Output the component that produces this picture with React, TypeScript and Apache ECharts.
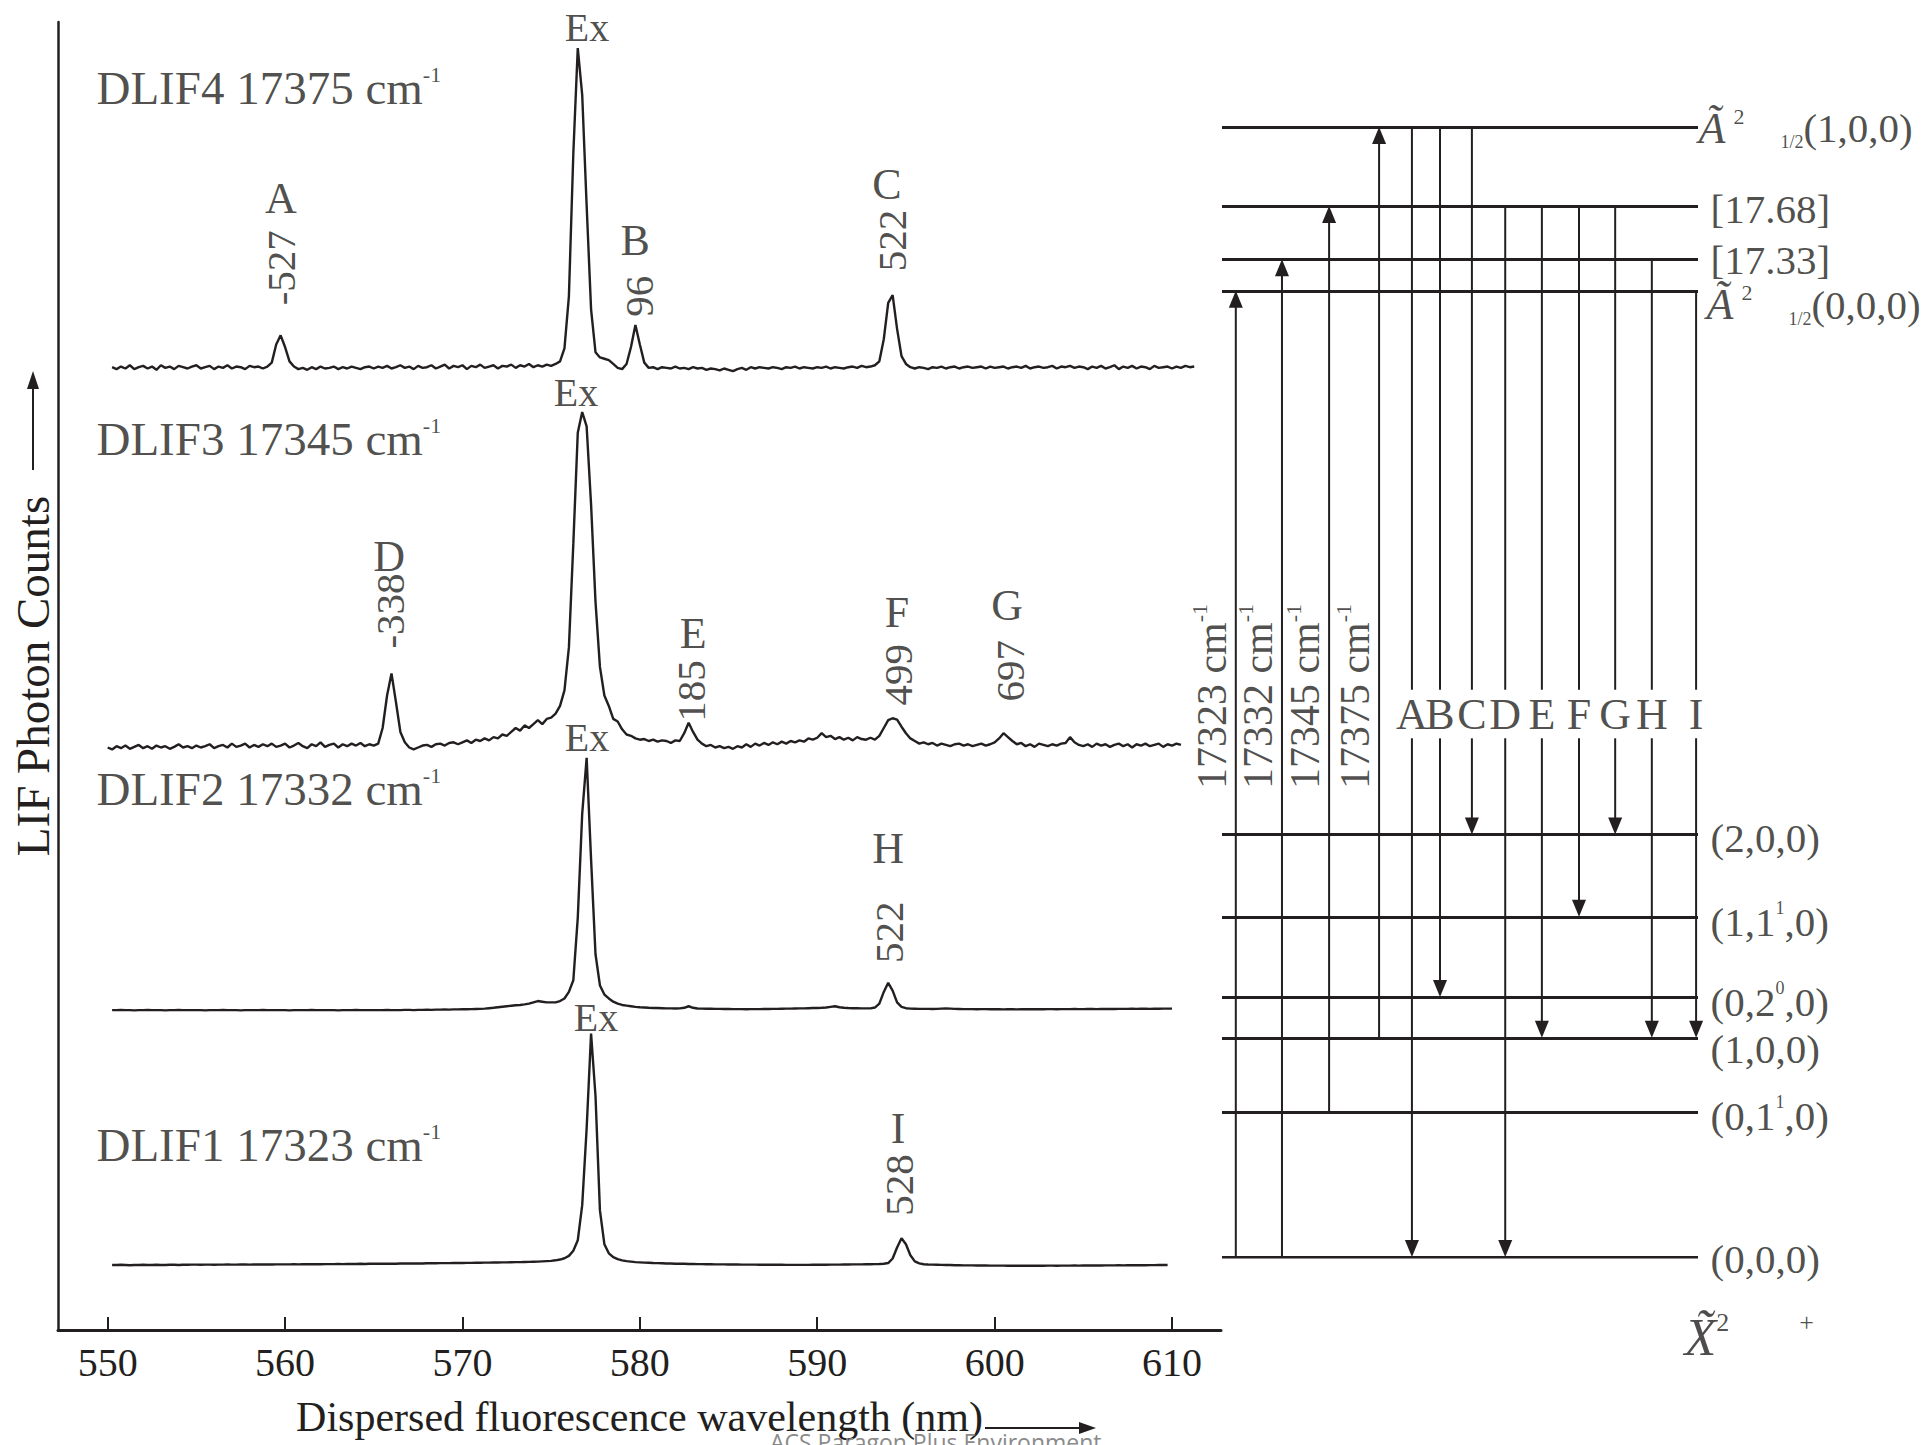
import React, { useEffect, useRef } from "react";
import * as echarts from "echarts";

const INK = "#231f20";
const SERIF = '"Liberation Serif", "Times New Roman", Times, serif';

// ---------------- Spectra (dispersed fluorescence) ----------------
// Samples every 0.25 nm starting at 550 nm; each row = 5 nm (20 samples).
// Values are counts above each trace's own baseline (arbitrary units).
const SAMPLE_START = 550;
const SAMPLE_STEP = 0.25;

const dlif4: (number | null)[] = [
  /*550*/ null, 0.05, -0.1, 0.1, -0.05, 0.2, -0.1, 0.05, 0.15, -0.05, 0.1, -0.15, 0.2, 0, 0.1, -0.1, 0.15, 0.05, -0.05, 0.1,
  /*555*/ 0.2, -0.05, 0.05, 0.15, -0.1, 0.1, 0, 0.2, -0.05, 0.1, 0.05, -0.1, 0.15, 0.05, 0.1, -0.05, 0.1, 0.4, 1.8, 2.5,
  /*560*/ 1.6, 0.5, 0.1, -0.1, 0, -0.15, 0.05, -0.1, 0.1, -0.05, 0, 0.1, -0.1, 0.05, -0.05, 0.1, 0, -0.1, 0.05, 0.1,
  /*565*/ -0.05, 0.1, 0, 0.15, -0.05, 0.05, 0.2, 0, 0.1, -0.1, 0.15, 0, 0.05, 0.2, -0.05, 0.1, 0.25, -0.05, 0.15, 0.05,
  /*570*/ 0.2, -0.1, 0.15, 0.05, 0.25, 0, 0.1, 0.2, -0.05, 0.15, 0.1, 0.25, 0, 0.2, 0.1, 0.3, 0.05, 0.2, 0.1, 0.25,
  /*575*/ 0.15, 0.3, 0.5, 1.5, 5.5, 16.5, 24.6, 21.0, 12.5, 4.5, 1.2, 0.8, 0.7, 0.6, 0.3, 0.0, -0.1, 0.3, 1.6, 3.3,
  /*580*/ 1.8, 0.4, 0.0, 0.05, -0.1, 0.05, 0, -0.05, 0.1, -0.05, 0, -0.1, 0.05, -0.05, 0, -0.15, -0.05, -0.1, -0.2, -0.05,
  /*585*/ -0.15, -0.25, -0.1, 0, -0.15, 0.05, -0.05, 0.05, 0, -0.05, 0.05, 0, -0.1, 0.05, 0, 0.1, -0.05, 0.05, 0, -0.05,
  /*590*/ 0.05, 0, 0.1, -0.05, 0.05, 0, -0.05, 0.05, 0.1, 0, 0.15, 0.05, 0.1, 0.2, 0.5, 2.2, 5.0, 5.6, 3.0, 0.9,
  /*595*/ 0.3, 0.05, -0.05, 0.05, 0, -0.1, 0.05, 0, 0.1, -0.05, 0.05, 0.1, -0.05, 0.05, 0.1, 0, 0.05, 0.1, -0.05, 0.1,
  /*600*/ 0, 0.05, 0.1, -0.05, 0.05, 0.1, 0, 0.15, -0.05, 0.05, 0.1, 0, 0.05, 0.15, -0.05, 0.1, 0.05, 0.15, 0, 0.1,
  /*605*/ 0.05, -0.1, 0.1, 0, 0.15, -0.05, 0.05, 0.2, -0.1, 0.1, 0, 0.15, -0.05, 0.1, 0.05, -0.1, 0.15, 0, 0.05, 0.1,
  /*610*/ -0.05, 0.1, 0, 0.15, 0.05, 0.1,
];

const dlif3: (number | null)[] = [
  /*550*/ -0.2, -0.35, -0.1, -0.25, -0.05, -0.3, -0.15, 0, -0.25, -0.1, -0.3, -0.05, -0.2, -0.1, -0.3, -0.15, 0.05, -0.2, -0.1, -0.25,
  /*555*/ -0.05, -0.2, -0.1, 0.05, -0.25, -0.1, 0, -0.2, 0.1, -0.15, -0.05, 0.1, -0.2, 0, -0.15, 0.05, -0.1, 0.1, -0.15, -0.05,
  /*560*/ 0.1, -0.2, -0.05, 0.15, -0.1, -0.25, 0.05, -0.1, 0.2, -0.15, 0, 0.1, -0.2, 0.05, -0.1, 0.1, -0.05, 0.15, -0.1, 0.05,
  /*565*/ -0.05, 0.1, 1.3, 3.8, 5.5, 3.3, 1.0, 0.2, -0.2, -0.35, -0.2, -0.05, 0, -0.15, 0.05, 0.1, -0.05, 0.15, 0.2, 0.05,
  /*570*/ 0.2, 0.35, 0.15, 0.4, 0.3, 0.5, 0.35, 0.6, 0.5, 0.8, 0.7, 1.0, 1.3, 1.1, 1.5, 1.3, 1.6, 1.9, 1.6, 2.0,
  /*575*/ 2.1, 2.4, 3.0, 4.2, 7.5, 15.5, 24.0, 25.6, 24.5, 18.5, 11.0, 6.0, 3.8, 3.0, 2.0, 1.8, 1.2, 0.8, 0.7, 0.5,
  /*580*/ 0.4, 0.45, 0.3, 0.4, 0.25, 0.35, 0.3, 0.15, 0.35, 0.3, 0.9, 1.7, 1.0, 0.4, 0.1, -0.1, 0, -0.2, -0.1, -0.25,
  /*585*/ -0.15, -0.3, -0.1, -0.2, 0.05, -0.15, 0.1, -0.05, 0.15, 0, 0.2, 0.05, 0.25, 0.1, 0.3, 0.2, 0.35, 0.25, 0.5, 0.4,
  /*590*/ 0.55, 0.9, 0.6, 0.7, 0.45, 0.6, 0.4, 0.55, 0.35, 0.6, 0.45, 0.4, 0.55, 0.4, 0.7, 1.3, 1.9, 2.05, 1.95, 1.4,
  /*595*/ 0.9, 0.5, 0.3, 0.1, 0.2, 0.05, 0.15, -0.05, 0.1, 0, -0.1, 0.05, 0.1, -0.05, 0.05, -0.1, 0, 0.1, -0.05, 0.05,
  /*600*/ 0.2, 0.5, 0.9, 0.6, 0.3, 0.05, 0.15, -0.1, 0.05, -0.15, 0.1, 0, -0.1, 0.05, -0.05, 0.1, 0.15, 0.6, 0.2, 0,
  /*605*/ -0.1, 0.05, -0.15, 0.1, -0.05, 0.05, -0.15, 0, 0.1, -0.1, 0.05, -0.2, 0.05, -0.05, 0.1, -0.1, 0, 0.1, -0.15, 0.05,
  /*610*/ -0.05, 0.1, 0,
];

const dlif2: (number | null)[] = [
  /*550*/ null, -0.1, -0.1, -0.08, -0.1, -0.1, -0.12, -0.1, -0.1, -0.08, -0.1, -0.1, -0.1, -0.12, -0.1, -0.1, -0.08, -0.1, -0.1, -0.1,
  /*555*/ -0.1, -0.1, -0.12, -0.1, -0.1, -0.1, -0.08, -0.1, -0.1, -0.1, -0.12, -0.1, -0.1, -0.1, -0.1, -0.08, -0.1, -0.1, -0.1, -0.1,
  /*560*/ -0.1, -0.12, -0.1, -0.1, -0.1, -0.1, -0.08, -0.1, -0.1, -0.1, -0.1, -0.1, -0.12, -0.1, -0.1, -0.1, -0.08, -0.1, -0.1, -0.1,
  /*565*/ -0.1, -0.1, -0.1, -0.08, -0.1, -0.1, -0.1, -0.08, -0.08, -0.1, -0.08, -0.08, -0.06, -0.08, -0.06, -0.06, -0.05, -0.06, -0.04, -0.04,
  /*570*/ -0.03, -0.03, -0.02, -0.01, 0, 0.02, 0.05, 0.08, 0.12, 0.16, 0.2, 0.24, 0.28, 0.3, 0.34, 0.4, 0.5, 0.6, 0.55, 0.5,
  /*575*/ 0.5, 0.5, 0.6, 0.8, 1.3, 2.2, 7.0, 15.0, 19.3, 11.5, 4.2, 1.8, 1.1, 0.8, 0.55, 0.4, 0.3, 0.25, 0.2, 0.15,
  /*580*/ 0.12, 0.1, 0.08, 0.07, 0.06, 0.05, 0.04, 0.04, 0.03, 0.04, 0.08, 0.2, 0.08, 0.03, 0.02, 0.01, 0.01, 0, 0, -0.01,
  /*585*/ -0.01, -0.02, -0.02, -0.02, -0.03, -0.02, -0.02, -0.02, -0.01, -0.01, 0, 0, 0.01, 0.02, 0.02, 0.03, 0.04, 0.04, 0.05, 0.06,
  /*590*/ 0.07, 0.08, 0.1, 0.15, 0.2, 0.12, 0.08, 0.06, 0.05, 0.05, 0.04, 0.04, 0.04, 0.1, 0.4, 1.3, 2.0, 1.4, 0.5, 0.15,
  /*595*/ 0.05, 0.02, 0.01, 0, 0, 0, -0.01, 0, 0.02, 0.03, 0.02, 0, -0.01, -0.02, -0.02, -0.02, -0.03, -0.02, -0.02, -0.03,
  /*600*/ -0.03, -0.03, -0.04, -0.03, -0.03, -0.04, -0.03, -0.03, -0.03, -0.02, -0.03, -0.03, -0.02, -0.02, -0.03, -0.02, -0.02, -0.02, -0.01, -0.02,
  /*605*/ -0.02, -0.01, -0.01, -0.02, -0.01, -0.01, 0, -0.01, 0, 0, 0, 0.01, 0, 0.01, 0.01, 0, 0.01, 0.01, 0.02, 0.02,
  /*610*/ 0.02,
];

const dlif1: (number | null)[] = [
  /*550*/ null, 0, 0, 0.02, 0, -0.02, 0, 0, 0.02, 0, 0, 0.02, 0, 0, 0.02, 0.02, 0, 0.02, 0.02, 0.03,
  /*555*/ 0.03, 0.02, 0.03, 0.03, 0.02, 0.03, 0.03, 0.04, 0.03, 0.03, 0.04, 0.04, 0.03, 0.04, 0.04, 0.05, 0.04, 0.04, 0.05, 0.05,
  /*560*/ 0.05, 0.05, 0.06, 0.05, 0.06, 0.06, 0.06, 0.07, 0.06, 0.07, 0.07, 0.07, 0.08, 0.07, 0.08, 0.08, 0.08, 0.09, 0.08, 0.09,
  /*565*/ 0.09, 0.09, 0.1, 0.1, 0.1, 0.1, 0.11, 0.11, 0.11, 0.12, 0.12, 0.12, 0.13, 0.13, 0.13, 0.14, 0.14, 0.14, 0.15, 0.15,
  /*570*/ 0.15, 0.16, 0.16, 0.17, 0.17, 0.18, 0.18, 0.19, 0.19, 0.2, 0.2, 0.21, 0.22, 0.22, 0.23, 0.24, 0.25, 0.26, 0.28, 0.3,
  /*575*/ 0.32, 0.36, 0.42, 0.52, 0.7, 1.1, 1.9, 4.6, 10.5, 17.8, 13.0, 4.2, 1.6, 0.9, 0.6, 0.45, 0.36, 0.3, 0.26, 0.22,
  /*580*/ 0.2, 0.18, 0.17, 0.15, 0.14, 0.13, 0.12, 0.11, 0.1, 0.09, 0.09, 0.08, 0.08, 0.07, 0.07, 0.06, 0.06, 0.05, 0.05, 0.05,
  /*585*/ 0.04, 0.04, 0.04, 0.03, 0.03, 0.03, 0.03, 0.02, 0.02, 0.02, 0.02, 0.02, 0.02, 0.01, 0.01, 0.01, 0.01, 0.01, 0.01, 0.02,
  /*590*/ 0.02, 0.02, 0.02, 0.03, 0.03, 0.03, 0.04, 0.04, 0.05, 0.05, 0.05, 0.06, 0.06, 0.07, 0.08, 0.1, 0.15, 0.5, 1.35, 2.05,
  /*595*/ 1.6, 0.75, 0.28, 0.12, 0.06, 0.04, 0.03, 0.02, 0.01, 0, 0, -0.02, -0.02, -0.03, -0.03, -0.03, -0.04, -0.04, -0.04, -0.05,
  /*600*/ -0.05, -0.05, -0.05, -0.06, -0.05, -0.06, -0.06, -0.06, -0.05, -0.06, -0.06, -0.06, -0.05, -0.05, -0.06, -0.05, -0.05, -0.05, -0.04, -0.05,
  /*605*/ -0.04, -0.04, -0.04, -0.03, -0.04, -0.03, -0.03, -0.03, -0.02, -0.03, -0.02, -0.02, -0.02, -0.01, -0.02, -0.01, -0.01, 0, 0, 0,
];

// vertical stacking offsets of each trace (arb. units)
const traceNames = ["DLIF4", "DLIF3", "DLIF2", "DLIF1"];
const traceValues = [dlif4, dlif3, dlif2, dlif1];
const traceOffsets = [74.0, 45.0, 24.7, 5.0];

// axis ticks
const xTicks = [550, 560, 570, 580, 590, 600, 610];

// text annotations placed in data coordinates (nm, counts)
const traceLabelText = ["DLIF4 17375 cm", "DLIF3 17345 cm", "DLIF2 17332 cm", "DLIF1 17323 cm"];
const traceLabelPos: [number, number][] = [[549.34, 95.5], [549.34, 68.5], [549.34, 41.6], [549.34, 14.2]];
const exLabelPos: [number, number][] = [[577.02, 100.2], [576.4, 72.1], [577.02, 45.6], [577.53, 24.0]];
const peakLetters = ["A", "B", "C", "D", "E", "F", "G", "H", "I"];
const peakLetterPos: [number, number][] = [
  [559.77, 87.0], [579.73, 83.8], [593.93, 88.1], [565.86, 59.5], [583.0, 53.6],
  [594.49, 55.2], [600.7, 55.7], [593.99, 37.0], [594.55, 15.5],
];
const peakShifts = ["-527", "96", "522", "-338", "185", "499", "697", "522", "528"];
const peakShiftPos: [number, number][] = [
  [559.77, 81.7], [579.95, 79.5], [594.21, 83.8], [565.91, 55.3], [582.88, 49.15],
  [594.55, 50.4], [600.86, 50.7], [594.04, 30.6], [594.6, 11.15],
];

// ---------------- Energy-level diagram ----------------
const levelKeys = ["A100", "L1768", "L1733", "A000", "X200", "X110", "X020", "X100", "X010", "X000"];
const levelHeights = [100, 93.0, 88.3, 85.5, 37.4, 30.1, 23.0, 19.4, 12.8, 0];
const levelLabels = [
  "{a|Ã}{sp0| }{sup|2}{sp| }{sub|1/2}{n|(1,0,0)}",
  "{n|[17.68]}",
  "{n|[17.33]}",
  "{a|Ã}{sp0| }{sup|2}{sp| }{sub|1/2}{n|(0,0,0)}",
  "{n|(2,0,0)}",
  "{n|(1,1}{sup2|1}{n|,0)}",
  "{n|(0,2}{sup2|0}{n|,0)}",
  "{n|(1,0,0)}",
  "{n|(0,1}{sup2|1}{n|,0)}",
  "{n|(0,0,0)}",
];
const groundStateLabel = "{a|X̃}{sup|2}{sp2| }{sup|+}";

const excitationLabels = ["17323", "17332", "17345", "17375"];
const excitationFrom = ["X000", "X000", "X010", "X100"];
const excitationTo = ["A000", "L1733", "L1768", "A100"];

const emissionLabels = ["A", "B", "C", "D", "E", "F", "G", "H", "I"];
const emissionFrom = ["A100", "A100", "A100", "L1768", "L1768", "L1768", "L1768", "L1733", "A000"];
const emissionTo = ["X000", "X020", "X200", "X000", "X100", "X110", "X200", "X100", "X100"];

// layout of the diagram (diagram units 0..100)
const excitationColumnX = [2.9, 12.6, 22.5, 33.0];
const emissionColumnX = [39.9, 45.8, 52.5, 59.5, 67.2, 75.0, 82.6, 90.3, 99.6];
const GAP_TOP = 50.2;
const GAP_BOTTOM = 45.9;
const LETTER_Y = 48.0;
const EXC_LABEL_Y = 49.6;
const levelLabelOffsets: [number, number][] = [
  [0, 1], [12, 3], [12, 1], [8, 14], [12, 4], [12, 5], [12, 5], [12, 11], [12, 4], [12, 2],
];
const ARROW_W = 14;
const ARROW_H = 17;

const richStyles = {
  t: { fontFamily: SERIF, fontSize: 47, color: INK, lineHeight: 50 },
  a: { fontFamily: SERIF, fontStyle: "italic", fontSize: 44, color: INK, lineHeight: 46 },
  n: { fontFamily: SERIF, fontSize: 41, color: INK, lineHeight: 46 },
  sup: { fontFamily: SERIF, fontSize: 22, color: INK, lineHeight: 22, verticalAlign: "top" },
  sup2: { fontFamily: SERIF, fontSize: 18, color: INK, lineHeight: 18, verticalAlign: "top" },
  sub: { fontFamily: SERIF, fontSize: 18, color: INK, lineHeight: 18, verticalAlign: "bottom" },
  sp0: { width: 8 },
  sp: { width: 36 },
  sp2: { width: 70 },
};

function levelY(key: string): number {
  return levelHeights[levelKeys.indexOf(key)];
}

function buildTrace(values: (number | null)[], offset: number): [number, number][] {
  const out: [number, number][] = [];
  values.forEach((v, i) => {
    if (v !== null) out.push([SAMPLE_START + i * SAMPLE_STEP, v + offset]);
  });
  return out;
}

function buildOption(): any {
  const traceSeries = traceValues.map((vals, k) => ({
    name: traceNames[k],
    type: "line",
    xAxisIndex: 0,
    yAxisIndex: 0,
    data: buildTrace(vals, traceOffsets[k]),
    showSymbol: false,
    symbol: "none",
    lineStyle: { color: INK, width: 2.4 },
    silent: true,
    z: 3,
  }));

  const annotationItems: any[] = [];
  traceLabelText.forEach((t, k) => {
    annotationItems.push({
      value: traceLabelPos[k],
      label: {
        show: true,
        position: "right",
        distance: 0,
        formatter: "{t|" + t + "}{sup|-1}",
        rich: richStyles,
      },
    });
  });
  exLabelPos.forEach((p) => {
    annotationItems.push({
      value: p,
      label: { show: true, position: "inside", formatter: "Ex", fontFamily: SERIF, fontSize: 40, color: INK },
    });
  });
  peakLetters.forEach((t, k) => {
    annotationItems.push({
      value: peakLetterPos[k],
      label: { show: true, position: "inside", formatter: t, fontFamily: SERIF, fontSize: 44, color: INK },
    });
  });
  peakShifts.forEach((t, k) => {
    annotationItems.push({
      value: peakShiftPos[k],
      label: { show: true, position: "inside", rotate: 90, formatter: t, fontFamily: SERIF, fontSize: 41, color: INK },
    });
  });

  const annotationSeries = {
    type: "scatter",
    xAxisIndex: 0,
    yAxisIndex: 0,
    symbolSize: 1,
    itemStyle: { color: "rgba(0,0,0,0)" },
    clip: false,
    silent: true,
    data: annotationItems,
    z: 5,
  };

  const levelSeries = {
    type: "lines",
    coordinateSystem: "cartesian2d",
    xAxisIndex: 1,
    yAxisIndex: 1,
    symbol: ["none", "none"],
    lineStyle: { color: INK, width: 3, opacity: 1 },
    silent: true,
    data: levelHeights.map((h) => ({ coords: [[0, h], [100, h]] })),
    z: 3,
  };

  // transitions: [x, yStart, yEnd, arrowFlag]
  const transitionData: number[][] = [];
  excitationLabels.forEach((_, k) => {
    transitionData.push([excitationColumnX[k], levelY(excitationFrom[k]), levelY(excitationTo[k]), 1]);
  });
  emissionLabels.forEach((_, k) => {
    transitionData.push([emissionColumnX[k], levelY(emissionFrom[k]), GAP_TOP, 0]);
    transitionData.push([emissionColumnX[k], GAP_BOTTOM, levelY(emissionTo[k]), 1]);
  });

  const transitionSeries = {
    type: "custom",
    coordinateSystem: "cartesian2d",
    xAxisIndex: 1,
    yAxisIndex: 1,
    clip: false,
    silent: true,
    encode: { x: 0, y: [1, 2] },
    data: transitionData,
    renderItem: (params: any, api: any) => {
      const x = api.value(0);
      const p0 = api.coord([x, api.value(1)]);
      const p1 = api.coord([x, api.value(2)]);
      const arrow = api.value(3) === 1;
      const dir = p1[1] > p0[1] ? 1 : -1;
      const endY = arrow ? p1[1] - dir * (ARROW_H - 2) : p1[1];
      const children: any[] = [
        {
          type: "line",
          shape: { x1: p0[0], y1: p0[1], x2: p1[0], y2: endY },
          style: { stroke: INK, lineWidth: 2 },
        },
      ];
      if (arrow) {
        children.push({
          type: "polygon",
          shape: {
            points: [
              [p1[0] - ARROW_W / 2, p1[1] - dir * ARROW_H],
              [p1[0] + ARROW_W / 2, p1[1] - dir * ARROW_H],
              [p1[0], p1[1]],
            ],
          },
          style: { fill: INK },
        });
      }
      return { type: "group", children };
    },
    z: 4,
  };

  const diagramLabelItems: any[] = [];
  levelLabels.forEach((txt, k) => {
    diagramLabelItems.push({
      value: [100, levelHeights[k]],
      label: {
        show: true,
        position: "right",
        distance: 0,
        offset: levelLabelOffsets[k],
        formatter: txt,
        rich: richStyles,
      },
    });
  });
  diagramLabelItems.push({
    value: [100, 0],
    label: {
      show: true,
      position: "right",
      distance: 0,
      offset: [-14, 80],
      formatter: groundStateLabel,
      rich: {
        ...richStyles,
        a: { ...richStyles.a, fontSize: 52, lineHeight: 56 },
        sup: { ...richStyles.sup, fontSize: 26, lineHeight: 26 },
      },
    },
  });
  emissionLabels.forEach((t, k) => {
    diagramLabelItems.push({
      value: [emissionColumnX[k], LETTER_Y],
      label: { show: true, position: "inside", formatter: t, fontFamily: SERIF, fontSize: 44, color: INK },
    });
  });
  excitationLabels.forEach((t, k) => {
    diagramLabelItems.push({
      value: [excitationColumnX[k], EXC_LABEL_Y],
      label: {
        show: true,
        position: "inside",
        rotate: 90,
        offset: [0, -24],
        formatter: "{t|" + t + " cm}{sup|-1}",
        rich: { ...richStyles, t: { fontFamily: SERIF, fontSize: 42, color: INK, lineHeight: 46 } },
      },
    });
  });

  const diagramLabelSeries = {
    type: "scatter",
    xAxisIndex: 1,
    yAxisIndex: 1,
    symbolSize: 1,
    itemStyle: { color: "rgba(0,0,0,0)" },
    clip: false,
    silent: true,
    data: diagramLabelItems,
    z: 5,
  };

  return {
    animation: false,
    backgroundColor: "#ffffff",
    grid: [
      { left: 58, top: 22, width: 1163, height: 1308 },
      { left: 1222, top: 127, width: 476, height: 1130 },
    ],
    xAxis: [
      {
        type: "value",
        gridIndex: 0,
        min: 547.2,
        max: 612.76,
        axisLine: { show: true, onZero: false, lineStyle: { color: INK, width: 3 } },
        axisTick: { show: true, inside: true, length: 13, lineStyle: { color: INK, width: 2 }, customValues: xTicks },
        axisLabel: { show: true, customValues: xTicks, fontFamily: SERIF, fontSize: 40, color: INK, margin: 12 },
        splitLine: { show: false },
        name: "Dispersed fluorescence wavelength (nm)",
        nameLocation: "middle",
        nameGap: 66,
        nameTextStyle: { fontFamily: SERIF, fontSize: 42, color: INK },
      },
      { type: "value", gridIndex: 1, min: 0, max: 100, show: false },
    ],
    yAxis: [
      {
        type: "value",
        gridIndex: 0,
        min: 0,
        max: 100.6,
        axisLine: { show: true, onZero: false, lineStyle: { color: INK, width: 2.5 } },
        axisTick: { show: false },
        axisLabel: { show: false },
        splitLine: { show: false },
        name: "LIF Photon Counts",
        nameLocation: "middle",
        nameRotate: 90,
        nameGap: 2,
        nameTextStyle: { fontFamily: SERIF, fontSize: 47, color: INK },
      },
      { type: "value", gridIndex: 1, min: 0, max: 100, show: false },
    ],
    series: [...traceSeries, annotationSeries, levelSeries, transitionSeries, diagramLabelSeries],
    graphic: [
      { type: "line", shape: { x1: 33, y1: 470, x2: 33, y2: 386 }, style: { stroke: INK, lineWidth: 2 } },
      { type: "polygon", shape: { points: [[27, 389], [39, 389], [33, 371]] }, style: { fill: INK } },
      { type: "line", shape: { x1: 985, y1: 1428, x2: 1082, y2: 1428 }, style: { stroke: INK, lineWidth: 2 } },
      { type: "polygon", shape: { points: [[1079, 1422], [1079, 1434], [1096, 1428]] }, style: { fill: INK } },
      {
        type: "text",
        x: 770,
        y: 1430,
        z: 10,
        style: { text: "ACS Paragon Plus Environment", fill: "#8a8a8a", fontSize: 23, fontFamily: '"Open Sans", sans-serif' },
      },
    ],
  };
}

export default function App() {
  const ref = useRef<HTMLDivElement>(null);
  useEffect(() => {
    document.body.style.margin = "0";
    if (!ref.current) return;
    const chart = echarts.init(ref.current, null, { renderer: "svg" });
    chart.setOption(buildOption());
    return () => chart.dispose();
  }, []);
  return <div ref={ref} style={{ width: 1931, height: 1445, background: "#fff" }} />;
}
